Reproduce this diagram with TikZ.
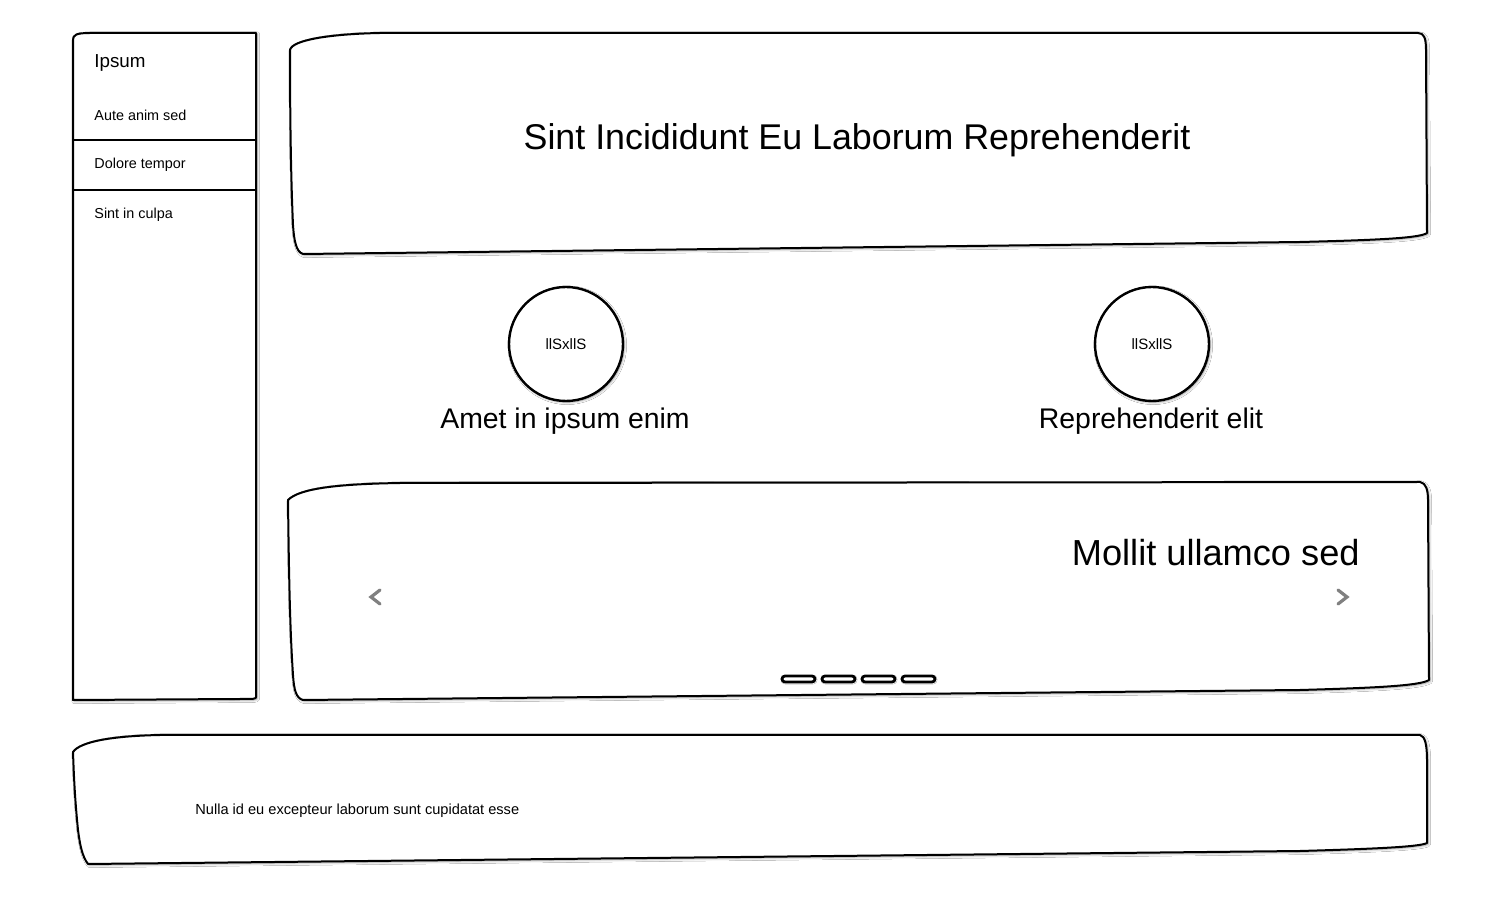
\documentclass[tikz,border=0pt]{standalone}
\usepackage{fontspec}
\setmainfont{Liberation Sans}
\usetikzlibrary{shadows.blur}
\tikzset{
  px/.style={x=0.5pt,y=-0.5pt},
  sk/.style={draw=black,fill=white,line width=1pt,line join=round,
    blur shadow={shadow xshift=0.6pt,shadow yshift=-0.6pt,shadow blur radius=1.2pt,shadow blur steps=6,shadow opacity=40}},
  divider/.style={draw=black,line width=1pt},
  lbl/.style={inner sep=0pt,text=black},
  chev/.style={draw=black!50,line width=1.6pt,line cap=round,line join=miter},
  pip/.style={draw=black,fill=white,line width=1.4pt,rounded corners=1.5pt,
    blur shadow={shadow xshift=0.3pt,shadow yshift=-0.3pt,shadow blur radius=0.8pt,shadow blur steps=4,shadow opacity=40}},
  circ/.style={circle,draw=black,fill=white,line width=1.2pt,minimum size=57pt,inner sep=0pt,
    blur shadow={shadow xshift=0.6pt,shadow yshift=-0.6pt,shadow blur radius=1.2pt,shadow blur steps=6,shadow opacity=45}},
}
\begin{document}
\begin{tikzpicture}[px]
\useasboundingbox[fill=white] (0,0) rectangle (1500,897);
% sidebar
\path[sk] (73,40) .. controls (73,35) and (76,33) .. (90,33) -- (256,33) -- (256,697) .. controls (256,699) and (254,699) .. (240,699) -- (73,700) -- cycle;
\coordinate (d1l) at (73,140); \coordinate (d1r) at (256,140);
\coordinate (d2l) at (73,190); \coordinate (d2r) at (256,190);
\draw[divider] (d1l) -- (d1r);
\draw[divider] (d2l) -- (d2r);
\node[lbl,anchor=west,font=\fontsize{9.4pt}{11pt}\selectfont] (s0) at (94,63) {Ipsum};
\node[lbl,anchor=west,font=\fontsize{7.2pt}{9pt}\selectfont] (s1) at (94,115) {Aute anim sed};
\node[lbl,anchor=west,font=\fontsize{7.2pt}{9pt}\selectfont] (s2) at (94,165) {Dolore tempor};
\node[lbl,anchor=west,font=\fontsize{7.2pt}{9pt}\selectfont] (s3) at (94,215) {Sint in culpa};
% header
\path[sk] (303,254) .. controls (296,252) and (294,240) .. (293,225) .. controls (291,180) and (290,120) .. (290,50)
  .. controls (292,40) and (330,34) .. (380,33) -- (1418,33) .. controls (1424,33) and (1426,38) .. (1426,50)
  -- (1427,233) .. controls (1420,238) and (1380,240) .. (1300,242) -- cycle;
\node[lbl,font=\fontsize{17.9pt}{21pt}\selectfont] (title) at (857,140) {Sint Incididunt Eu Laborum Reprehenderit};
% circles
\node[circ,font=\fontsize{7.5pt}{9pt}\selectfont] (c1) at (566,344) {llSxllS};
\node[circ,font=\fontsize{7.5pt}{9pt}\selectfont] (c2) at (1152,344) {llSxllS};
\node[lbl,font=\fontsize{14.2pt}{17pt}\selectfont] (l1) at (565,421) {Amet in ipsum enim};
\node[lbl,font=\fontsize{14.2pt}{17pt}\selectfont] (l2) at (1151,421) {Reprehenderit elit};
% carousel
\path[sk] (303,700) .. controls (296,698) and (294,690) .. (293,675) .. controls (290,630) and (289,580) .. (288,500)
  .. controls (300,488) and (340,484) .. (400,483) -- (1420,482) .. controls (1426,483) and (1428,490) .. (1428,500)
  -- (1429,680) .. controls (1420,686) and (1370,688) .. (1300,690) -- cycle;
\node[lbl,anchor=east,font=\fontsize{18.1pt}{21pt}\selectfont] (mol) at (1360,553) {Mollit ullamco sed};
\coordinate (la) at (380,590); \coordinate (lb) at (371,597); \coordinate (lc) at (380,604);
\coordinate (ra) at (1338,590); \coordinate (rb) at (1347,597); \coordinate (rc) at (1338,604);
\draw[chev] (la) -- (lb) -- (lc);
\draw[chev] (ra) -- (rb) -- (rc);
\path[pip] (782,676) rectangle (815,682);
\path[pip] (822,676) rectangle (855,682);
\path[pip] (862,676) rectangle (895,682);
\path[pip] (902,676) rectangle (935,682);
% footer
\path[sk] (88,864) .. controls (82,856) and (80,845) .. (78,830) .. controls (75,800) and (74,780) .. (73,752)
  .. controls (80,742) and (110,736) .. (160,735) -- (1420,735) .. controls (1425,736) and (1427,745) .. (1427,760)
  -- (1427,843) .. controls (1420,847) and (1370,849) .. (1300,851) -- cycle;
\node[lbl,anchor=west,font=\fontsize{7.3pt}{9pt}\selectfont] (foot) at (195,811) {Nulla id eu excepteur laborum sunt cupidatat esse};
\end{tikzpicture}
\end{document}
